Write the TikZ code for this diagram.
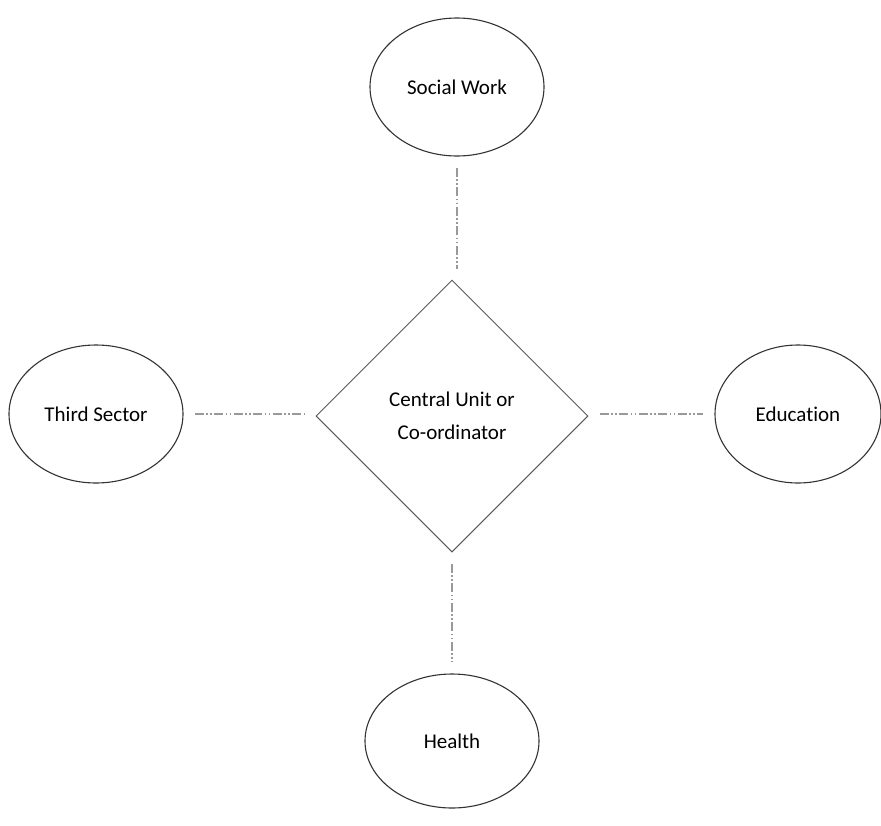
\documentclass[tikz,border=0pt]{standalone}
\usepackage{fontspec}
\setmainfont[Ligatures={NoCommon}]{Carlito}
\usetikzlibrary{shapes.geometric}

\tikzset{
  x=1pt, y=1pt,
  partner/.style={draw=black!80, line width=1.1pt, ellipse, inner sep=0pt,
    minimum width=174pt, minimum height=138pt, font=\fontsize{21}{25}\selectfont},
  hub/.style={draw=black!65, line width=1pt, diamond, inner sep=0pt,
    minimum width=272pt, minimum height=272pt, align=center,
    font=\fontsize{21}{33}\selectfont},
  link/.style={draw=black!40, line width=1.2pt,
    dash pattern=on 9pt off 2.5pt on 1.5pt off 2.5pt on 1.5pt off 2.5pt,
    shorten >=11pt, shorten <=11pt}
}

\begin{document}
\begin{tikzpicture}
  \useasboundingbox (0,0) rectangle (881,-825);

  \node[hub] (hub) at (452,-416) {Central Unit or\\Co-ordinator};

  \node[partner] (social) at (457,-87) {Social Work};
  \node[partner] (third)  at (96,-414) {Third Sector};
  \node[partner, minimum width=166pt] (edu) at (798,-414) {Education};
  \node[partner, minimum height=134pt] (health) at (452,-741) {Health};

  \draw[link] (social.south) -- (social.south |- hub.north);
  \draw[link] (third.east) -- (third.east -| hub.west);
  \draw[link] (edu.west -| hub.east) -- (edu.west);
  \draw[link] (hub.south) -- (hub.south |- health.north);
\end{tikzpicture}
\end{document}
